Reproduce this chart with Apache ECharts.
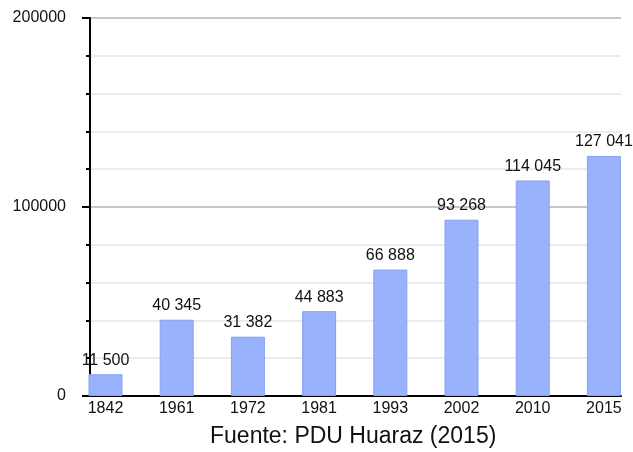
<!DOCTYPE html>
<html>
<head>
<meta charset="utf-8">
<script src="https://cdn.jsdelivr.net/npm/echarts@6/dist/echarts.min.js"></script>
<style>
  html, body { margin: 0; padding: 0; background: #fff; }
  #chart { width: 633px; height: 452px; }
</style>
</head>
<body>
<div id="chart"></div>
<script>
  // datos: población de Huaraz por año censal
  var years = ['1842', '1961', '1972', '1981', '1993', '2002', '2010', '2015'];
  var population = [11500, 40345, 31382, 44883, 66888, 93268, 114045, 127041];
  var yTicks = [0, 100000, 200000];
  var source = 'Fuente: PDU Huaraz (2015)';

  var font = 'Liberation Sans, Arial, sans-serif';

  function withSpace(n) {
    return String(n).replace(/\B(?=(\d{3})+(?!\d))/g, ' ');
  }

  var chart = echarts.init(document.getElementById('chart'));
  chart.setOption({
    animation: false,
    backgroundColor: '#fff',
    title: {
      text: source,
      left: 210,
      top: 425,
      padding: 0,
      textStyle: { fontFamily: font, fontSize: 23, fontWeight: 'normal', color: '#111' }
    },
    grid: { left: 90, right: 12, top: 18, bottom: 56 },
    xAxis: {
      type: 'value',
      min: -0.2177,
      max: 7.24,
      splitLine: { show: false },
      axisLine: { show: true, onZero: false, lineStyle: { color: '#000', width: 2 } },
      axisTick: { show: false },
      axisLabel: {
        customValues: years.map(function (y, i) { return i; }),
        formatter: function (v) { return years[Math.round(v)]; },
        margin: 5,
        fontFamily: font,
        fontSize: 16,
        color: '#111'
      }
    },
    yAxis: {
      type: 'value',
      min: 0,
      max: 200000,
      interval: 100000,
      axisLine: { show: true, onZero: false, lineStyle: { color: '#000', width: 2 } },
      axisTick: { show: true, length: 8, lineStyle: { color: '#000', width: 2 } },
      minorTick: { show: true, splitNumber: 5, length: 4, lineStyle: { color: '#000', width: 2 } },
      splitLine: { show: true, lineStyle: { color: '#b4b4b4', width: 1.5 } },
      minorSplitLine: { show: true, lineStyle: { color: '#e6e6e6', width: 1.5 } },
      axisLabel: {
        customValues: yTicks,
        formatter: function (v) { return String(v); },
        margin: 24,
        fontFamily: font,
        fontSize: 16,
        color: '#111'
      }
    },
    series: [{
      type: 'bar',
      barWidth: 34,
      data: population.map(function (v, i) { return [i, v]; }),
      itemStyle: { color: '#99b2fc', borderColor: '#85a1f6', borderWidth: 1 },
      label: {
        show: true,
        position: 'top',
        distance: 6,
        fontFamily: font,
        fontSize: 16,
        color: '#111',
        formatter: function (p) { return withSpace(p.value[1]); }
      },
      z: 3
    }]
  });
</script>
</body>
</html>
